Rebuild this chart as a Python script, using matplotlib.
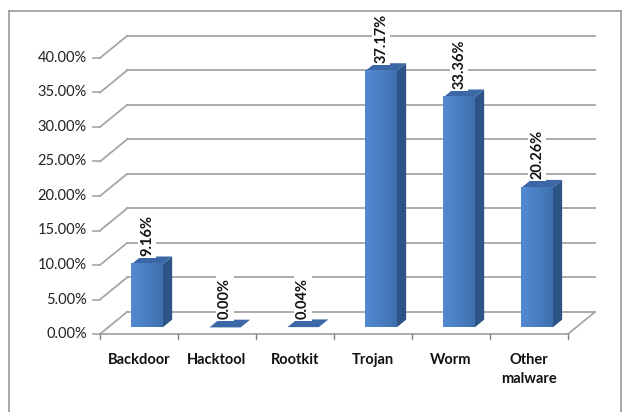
import numpy as np
import matplotlib.pyplot as plt
from matplotlib.colors import LinearSegmentedColormap
from matplotlib.patches import Polygon
from matplotlib.lines import Line2D

CATEGORIES = ["Backdoor", "Hacktool", "Rootkit", "Trojan", "Worm", "Other\nmalware"]
SHARES = [9.16, 0.00, 0.04, 37.17, 33.36, 20.26]   # percent of samples
Y_TICKS = [0, 5, 10, 15, 20, 25, 30, 35, 40]

# oblique "3D" look: depth offset of the back wall, in data units
DX = 0.346
DY = 3.19
BAR_W = 0.40
DEPTH0, DEPTH1 = 0.30, 0.65     # bar sits between these fractions of the depth

SIDE = "#2e5386"
TOP = "#3b67a6"
GRID = "#a6a6a6"
front_cmap = LinearSegmentedColormap.from_list("front", ["#5289d0", "#4a7fc2", "#3e6fae"])

plt.rcParams["font.family"] = ["Lato", "DejaVu Sans"]

fig = plt.figure(figsize=(6.22, 4.12), dpi=100)
ax = fig.add_axes([0, 0, 1, 1])
xlim = (-100 / 78, 522 / 78)
ylim = (-78 / 6.9, 334 / 6.9)
ax.axis("off")

n = len(CATEGORIES)

# walls: side-wall diagonals plus back-wall gridlines
for v in Y_TICKS:
    ax.plot([0, DX], [v, v + DY], color=GRID, lw=1.3, zorder=1)
    ax.plot([DX, n + DX], [v + DY, v + DY], color=GRID, lw=1.3, zorder=1)
    ax.plot([-0.09, 0], [v, v], color=GRID, lw=1.2, zorder=1)
    ax.text(-0.17, v, f"{v:.2f}%", ha="right", va="center", fontsize=10.5, color="#222222")

# floor edges and category ticks
ax.plot([0, n, n + DX], [0, 0, DY], color=GRID, lw=1.3, zorder=1)
for i in range(n + 1):
    ax.plot([i, i], [0, -0.7], color="#808080", lw=1, zorder=1)

grad = np.linspace(0, 1, 64).reshape(1, -1)

for i, (name, v) in enumerate(zip(CATEGORIES, SHARES)):
    x0 = i + 0.5 - BAR_W / 2 + DEPTH0 * DX
    y0 = DEPTH0 * DY
    x1 = x0 + BAR_W
    ddx = (DEPTH1 - DEPTH0) * DX
    ddy = (DEPTH1 - DEPTH0) * DY
    top = v + y0
    ax.add_patch(Polygon([(x1, y0), (x1 + ddx, y0 + ddy), (x1 + ddx, top + ddy), (x1, top)],
                         closed=True, fc=SIDE, ec="none", zorder=3))
    ax.add_patch(Polygon([(x0, top), (x1, top), (x1 + ddx, top + ddy), (x0 + ddx, top + ddy)],
                         closed=True, fc=TOP, ec="none", zorder=3))
    if v > 0.2:
        ax.imshow(grad, cmap=front_cmap, extent=[x0, x1, y0, top], aspect="auto",
                  interpolation="bilinear", zorder=3)

    ax.text(x0 + BAR_W / 2, top + 1.2, f"{v:.2f}%", rotation=90, ha="center", va="bottom",
            fontsize=10.5, fontweight="bold", color="#111111", zorder=4,
            bbox=dict(fc="white", ec="none", pad=1.5))

    ax.text(i + 0.5, -2.75, name, ha="center", va="top", fontsize=10.5, fontweight="bold",
            color="#111111", linespacing=1.45)

ax.set_xlim(*xlim)
ax.set_ylim(*ylim)

# chart border
for xs, ys in [([9 / 622, 9 / 622], [0, 1 - 11 / 412]),
               ([9 / 622, 621 / 622], [1 - 11 / 412, 1 - 11 / 412]),
               ([621 / 622, 621 / 622], [1 - 11 / 412, 0])]:
    fig.add_artist(Line2D(xs, ys, color="#9a9a9a", lw=1.2, transform=fig.transFigure))

fig.savefig("out.png", dpi=100)
